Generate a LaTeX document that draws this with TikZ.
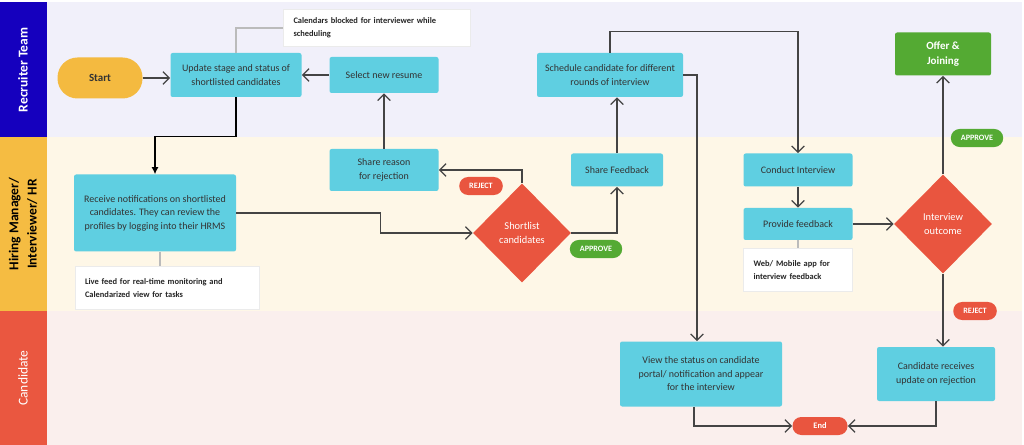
\documentclass[tikz,border=0pt]{standalone}
\usepackage{fontspec}
\setmainfont{Carlito}
\usetikzlibrary{shapes.geometric}
\usetikzlibrary{arrows.meta}

\definecolor{bleuequipe}{HTML}{1500BE}
\definecolor{fondequipe}{HTML}{F1F0FA}
\definecolor{jauneRH}{HTML}{F5BC42}
\definecolor{fondRH}{HTML}{FEF7E7}
\definecolor{rougecand}{HTML}{EA5740}
\definecolor{fondcand}{HTML}{FAEFED}
\definecolor{turquoise}{HTML}{5FCFE1}
\definecolor{vert}{HTML}{54AA33}
\definecolor{rougedecision}{HTML}{E9553F}
\definecolor{jaunedebut}{HTML}{F4BA40}
\definecolor{trait}{HTML}{444444}
\definecolor{texte}{HTML}{333333}
\definecolor{gristrait}{HTML}{BBBBBB}

\begin{document}
\begin{tikzpicture}[x=0.025cm,y=-0.025cm]
\tikzstyle{lien}=[-{Straight Barb[length=4.5pt,width=9pt]},trait,line width=0.9pt]
\tikzstyle{renvoi}=[gristrait,line width=1pt]
\tikzset{etape/.style 2 args={fill=turquoise,rounded corners=1.5pt,text=texte,
  minimum width=#1*0.025cm,minimum height=#2*0.025cm,inner sep=1pt,align=center,
  font=\fontsize{7.1}{9.6}\selectfont},
note/.style 2 args={fill=white,draw=black!8,text width=#1*0.025cm,minimum height=#2*0.025cm,
  inner xsep=0.25cm,align=left,text=black!85,font=\bfseries\fontsize{6}{9}\selectfont},
decision/.style={diamond,fill=rougedecision,text=white,minimum width=98*0.025cm,
  minimum height=99*0.025cm,inner sep=0pt,align=center,font=\fontsize{7.4}{10}\selectfont},
pastille/.style={fill=#1,text=white,rounded corners=0.22cm,minimum height=0.45cm,
  inner xsep=0.25cm,inner ysep=0pt,font=\bfseries\fontsize{5.8}{6}\selectfont},
pastille/.default={rougedecision},
couloir/.style={rotate=90,align=center,font=\bfseries\fontsize{9.6}{13}\selectfont}}
\useasboundingbox (0,0) rectangle (1024,445);
% couloirs
\fill[fondequipe] (47,2) rectangle (1022,137);
\fill[fondRH] (47,137) rectangle (1022,311);
\fill[fondcand] (47,311) rectangle (1022,445);
\fill[bleuequipe] (0,2) rectangle (47,137);
\fill[jauneRH] (0,137) rectangle (47,311);
\fill[rougecand] (0,311) rectangle (47,445);
\node [couloir,white] (equipe) at (23,70) {Recruiter Team};
\node [couloir,black] (rh) at (23,224) {Hiring Manager/\\Interviewer/ HR};
\node [couloir,white,font=\fontsize{9.6}{13}\selectfont] (cand) at (23,378) {Candidate};
% recruteur
\node [fill=jaunedebut,rounded corners=0.5cm,minimum width=85*0.025cm,minimum height=41*0.025cm,
  text=texte,font=\bfseries\fontsize{7.8}{8}\selectfont] (debut) at (100,78) {Start};
\node [etape={131}{44}] (maj) at (236,75) {Update stage and status of\\shortlisted candidates};
\node [etape={109}{36}] (choix) at (384,75) {Select new resume};
\node [etape={146}{44}] (planif) at (610,75) {Schedule candidate for different\\rounds of interview};
\node [fill=vert,rounded corners=1.5pt,minimum width=96*0.025cm,minimum height=43*0.025cm,
  text=white,align=center,font=\bfseries\fontsize{7.8}{11}\selectfont] (offre) at (943,54) {Offer \&\\Joining};
\node [note={167}{37}] (agenda) at (377,28) {Calendars blocked for interviewer while\\scheduling};
% manager / RH
\node [etape={162}{77}] (notif) at (155,213) {Receive notifications on shortlisted\\candidates. They can review the\\profiles by logging into their HRMS};
\node [note={164}{43}] (suivi) at (167,288) {Live feed for real-time monitoring and\\Calendarized view for tasks};
\node [etape={109}{42}] (motif) at (384,170) {Share reason\\for rejection};
\node [decision] (tri) at (522,233) {Shortlist\\candidates};
\node [etape={92}{33}] (retour) at (617,170) {Share Feedback};
\node [etape={109}{33}] (entretien) at (798,170) {Conduct Interview};
\node [etape={109}{32}] (avis) at (798,224) {Provide feedback};
\node [note={89}{43}] (appli) at (798,270) {Web/ Mobile app for\\interview feedback};
\node [decision] (issue) at (943,224) {Interview\\outcome};
\node [pastille] (refus1) at (481,186) {REJECT};
\node [pastille=vert] (accord1) at (596,249) {APPROVE};
\node [pastille=vert] (accord2) at (977,138) {APPROVE};
\node [pastille] (refus2) at (975,311) {REJECT};
% candidat
\node [etape={162}{65}] (statut) at (701,374) {View the status on candidate\\portal/ notification and appear\\for the interview};
\node [etape={118}{54}] (reponse) at (936,374) {Candidate receives\\update on rejection};
\node [fill=rougedecision,rounded corners=0.22cm,minimum width=55*0.025cm,minimum height=0.45cm,
  inner sep=0pt,text=white,font=\bfseries\fontsize{6}{6}\selectfont] (fin) at (820,426) {End};
% renvois gris
\draw [renvoi] (maj.north) |- (agenda.west);
\draw [renvoi] ([xshift=5*0.025cm]notif.south) -- ([xshift=-7*0.025cm]suivi.north);
\draw [renvoi] (avis.south) -- (appli.north);
% liens
\draw [lien] (debut.east) -- (debut.east -| maj.west);
\draw [lien] (choix) -- (maj);
\draw [-{Latex[length=5pt,width=5pt]},black,line width=0.9pt] (maj.south) -- ++(0,39) -| (notif.north);
\draw [lien] (notif.east) -- ++(144,0) |- (tri.west);
\draw [lien] (tri.north) |- (motif.east);
\draw [lien] (tri.east) -| (retour.south);
\draw [lien] (motif) -- (choix);
\draw [lien] (retour.north) -- (retour.north |- planif.south);
\draw [lien] (planif.north) -- ++(0,-21) -| (entretien.north);
\draw [lien] (planif.east) -| ([xshift=-4*0.025cm]statut.north);
\draw [lien] (entretien) -- (avis);
\draw [lien] (avis) -- (issue);
\draw [lien] (issue) -- (offre);
\draw [lien] (issue.south) -- (issue.south |- reponse.north);
\draw [lien] ([xshift=-7*0.025cm]statut.south) |- (fin.west);
\draw [lien] (reponse.south) |- (fin.east);
\end{tikzpicture}
\end{document}
